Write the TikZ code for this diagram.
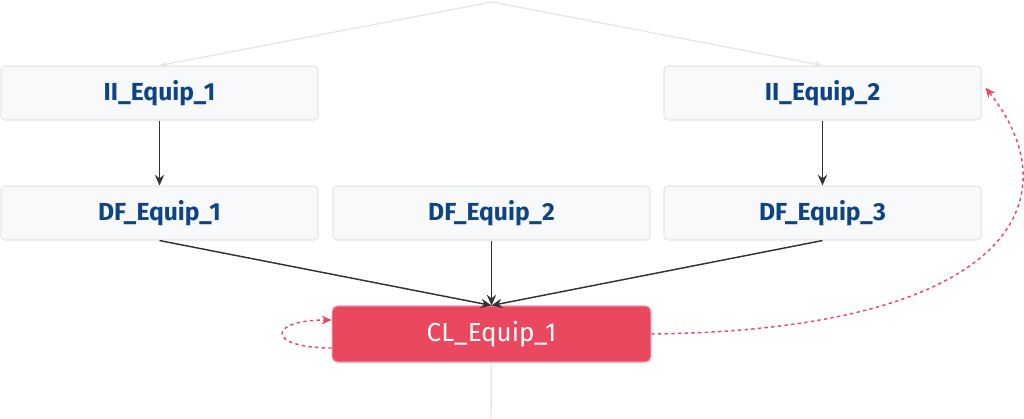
\documentclass[tikz,border=0pt]{standalone}
\usepackage{fontspec}
\setmainfont{Fira Sans}
\usetikzlibrary{arrows.meta}
\definecolor{boxfill}{HTML}{F8F9FA}
\definecolor{boxline}{HTML}{E4E6E8}
\definecolor{equiptext}{HTML}{0E4486}
\definecolor{clred}{HTML}{E9485F}
\definecolor{faintline}{HTML}{E6E6E6}
\definecolor{darkline}{HTML}{333333}
\begin{document}
\begin{tikzpicture}[x=0.75pt, y=-0.75pt,
    equip/.style={draw=boxline, fill=boxfill, rounded corners=3pt, line width=0.8pt,
      minimum width=237.75pt, minimum height=40.5pt, text=equiptext,
      font=\fontsize{18.5}{21}\selectfont\bfseries},
    clbox/.style={draw=clred!60, fill=clred, rounded corners=4pt, line width=0.8pt,
      minimum width=239pt, minimum height=42pt, text=white,
      font=\fontsize{19.5}{22}\selectfont},
    flow/.style={draw=darkline, line width=1.1pt, -{Stealth[length=8pt, width=7pt]}},
    faint/.style={draw=faintline, line width=1pt},
    loopback/.style={draw=clred, line width=1.1pt, dash pattern=on 2.5pt off 2.5pt,
      -{Stealth[length=7.5pt, width=6.5pt]}}]
      \useasboundingbox (0, 0) rectangle (1024, 418);

      % Row 1
      \node[equip] (ii1) at (159.5, 93) {II\_Equip\_1};
      \node[equip] (ii2) at (822.5, 93) {II\_Equip\_2};
      % Row 2
      \node[equip] (df1) at (159.5, 213) {DF\_Equip\_1};
      \node[equip] (df2) at (491.5, 213) {DF\_Equip\_2};
      \node[equip] (df3) at (822.5, 213) {DF\_Equip\_3};
      % Row 3
      \node[clbox] (cl1) at (491.5, 334) {CL\_Equip\_1};

      % faint links off the top and bottom
      \coordinate (src) at (492, 2);
      \coordinate (sink) at (491, 418);
      \draw[faint, -{Stealth[length=6pt, width=5pt]}] (src) -- (ii1.north);
      \draw[faint, -{Stealth[length=6pt, width=5pt]}] (src) -- (ii2.north);
      \draw[faint] (cl1.south) -- (sink);

      % main flow
      \draw[flow] (ii1.south) -- (df1.north);
      \draw[flow] (ii2.south) -- (df3.north);
      \draw[flow] (df1.south) -- (cl1.north);
      \draw[flow] (df2.south) -- (cl1.north);
      \draw[flow] (df3.south) -- (cl1.north);

      % dashed feedback
      \draw[loopback] ([yshift=-10.5pt]cl1.west) .. controls +(-65, 0) and +(-65, 0) .. ([yshift=10.5pt]cl1.west);
      \draw[loopback] (cl1.east) .. controls (1010, 330) and (1075, 200) .. ([xshift=3pt, yshift=4pt]ii2.east);
    \end{tikzpicture}
\end{document}
